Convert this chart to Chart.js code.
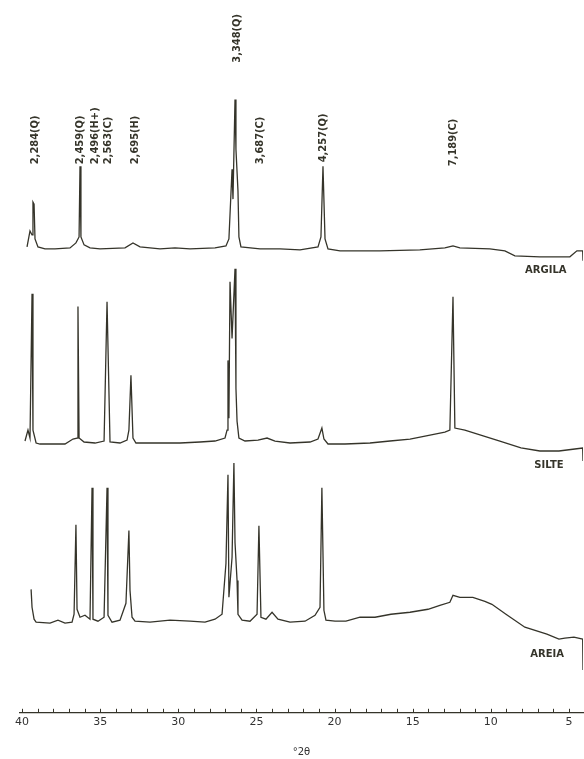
<!DOCTYPE html>
<html>
<head>
<meta charset="utf-8">
<script src="https://cdn.jsdelivr.net/npm/chart.js@4"></script>
<style>
  html, body { margin: 0; padding: 0; background: #fff; }
  #wrap { width: 584px; height: 759px; }
</style>
</head>
<body>
<div id="wrap"><canvas id="xrd"></canvas></div>
<script>
// diffractogram traces, 2θ (degrees) and intensity (arbitrary units)
const argilaTheta = [39.68, 39.49, 39.36, 39.30, 39.23, 39.17, 38.98, 38.53, 37.89, 36.93, 36.55, 36.35, 36.29, 36.23, 36.03, 35.65, 35.01, 33.41, 32.90, 32.45, 31.17, 30.21, 29.25, 27.65, 26.95, 26.76, 26.56, 26.50, 26.37, 26.31, 26.18, 26.12, 25.99, 24.77, 23.49, 22.21, 21.06, 20.87, 20.74, 20.61, 20.42, 19.65, 17.10, 14.54, 12.94, 12.42, 11.98, 10.06, 9.10, 8.46, 6.86, 4.94, 4.49, 4.12, 4.10];
const argilaCounts = [17, 33, 29, 62, 60, 25, 17, 15, 15, 16, 21, 27, 98, 27, 19, 16, 15, 16, 21, 17, 15, 16, 15, 16, 18, 25, 95, 65, 165, 115, 73, 27, 17, 15, 15, 14, 17, 27, 98, 25, 15, 13, 13, 14, 16, 18, 16, 15, 13, 8, 7, 7, 13, 13, 3];

const silteTheta = [39.81, 39.62, 39.49, 39.36, 39.30, 39.10, 38.85, 38.21, 37.25, 36.74, 36.48, 36.42, 36.35, 36.03, 35.33, 34.75, 34.56, 34.37, 33.73, 33.28, 33.16, 33.03, 32.90, 32.71, 31.81, 29.89, 28.61, 27.65, 27.01, 26.88, 26.82, 26.76, 26.69, 26.56, 26.37, 26.31, 26.24, 26.12, 25.73, 24.90, 24.32, 23.81, 22.85, 21.57, 21.06, 20.81, 20.68, 20.42, 19.33, 17.73, 16.45, 15.17, 14.21, 12.94, 12.62, 12.42, 12.30, 11.66, 10.44, 9.42, 8.07, 6.86, 5.64, 4.62, 4.12, 4.10];
const silteCounts = [22, 33, 25, 170, 33, 20, 19, 19, 19, 24, 25, 157, 25, 21, 20, 22, 162, 21, 20, 23, 33, 88, 25, 20, 20, 20, 21, 22, 25, 33, 103, 45, 182, 125, 195, 75, 42, 25, 22, 23, 25, 22, 20, 21, 24, 35, 24, 19, 19, 20, 22, 24, 27, 31, 33, 167, 35, 33, 27, 22, 15, 12, 12, 14, 15, 2];

const areiaTheta = [39.42, 39.36, 39.23, 39.10, 38.21, 37.70, 37.25, 36.80, 36.67, 36.55, 36.48, 36.29, 35.97, 35.65, 35.52, 35.46, 35.14, 34.75, 34.56, 34.50, 34.24, 33.73, 33.35, 33.16, 33.09, 32.96, 32.77, 31.81, 30.53, 29.25, 28.29, 27.65, 27.20, 26.95, 26.82, 26.76, 26.56, 26.44, 26.37, 26.24, 26.18, 25.92, 25.41, 24.96, 24.84, 24.71, 24.39, 24.00, 23.62, 22.85, 21.89, 21.25, 20.93, 20.81, 20.68, 20.55, 19.97, 19.27, 18.37, 17.41, 16.39, 15.17, 14.02, 13.26, 12.62, 12.42, 11.98, 11.15, 10.38, 9.93, 9.03, 7.82, 6.41, 5.64, 5.26, 4.68, 4.12, 4.10];
const areiaCounts = [81, 63, 51, 48, 47, 50, 47, 48, 56, 146, 61, 53, 55, 51, 183, 51, 49, 53, 183, 55, 48, 50, 67, 140, 80, 53, 49, 48, 50, 49, 48, 51, 56, 107, 196, 73, 113, 208, 128, 90, 56, 50, 49, 56, 145, 53, 51, 58, 51, 48, 49, 55, 63, 183, 60, 50, 49, 49, 53, 53, 56, 58, 61, 65, 68, 75, 73, 73, 69, 66, 56, 43, 36, 31, 32, 33, 31, 0];

const sampleNames = ['ARGILA', 'SILTE', 'AREIA'];

// d-spacing labels and the 2θ they sit at
const peakLabels = ['2,284(Q)', '2,459(Q)', '2,496(H+)', '2,563(C)', '2,695(H)', '3,348(Q)', '3,687(C)', '4,257(Q)', '7,189(C)'];
const peakTheta = [39.17, 36.29, 35.33, 34.50, 32.77, 26.24, 24.77, 20.74, 12.42];

const xTicks = [40, 35, 30, 25, 20, 15, 10, 5];

// vertical stacking of the three traces
const offsets = [451, 251, 43];
const labelLevels = [551, 551, 551, 551, 551, 653, 551, 553, 549];
const nameTheta = [6.48, 6.28, 6.40];
const nameLevels = [444, 249, 59];

const ink = '#35342a';

function toPoints(xs, ys, off) {
  return xs.map((x, i) => ({ x: x, y: ys[i] + off }));
}

const annotations = {
  id: 'annotations',
  afterDraw(chart) {
    const ctx = chart.ctx;
    const xs = chart.scales.x;
    const ys = chart.scales.y;
    const area = chart.chartArea;

    // small ticks pointing up from the axis, one per degree
    ctx.save();
    ctx.strokeStyle = ink;
    ctx.lineWidth = 1;
    for (let t = 5; t <= 40; t++) {
      const px = Math.round(xs.getPixelForValue(t)) + 0.5;
      ctx.beginPath();
      ctx.moveTo(px, area.bottom);
      ctx.lineTo(px, area.bottom - 4);
      ctx.stroke();
    }

    // rotated peak labels
    ctx.fillStyle = ink;
    ctx.font = 'bold 11px "DejaVu Sans Condensed", "DejaVu Sans", sans-serif';
    ctx.textAlign = 'left';
    ctx.textBaseline = 'middle';
    peakLabels.forEach((txt, i) => {
      ctx.save();
      ctx.translate(xs.getPixelForValue(peakTheta[i]), ys.getPixelForValue(labelLevels[i]));
      ctx.rotate(-Math.PI / 2);
      ctx.fillText(txt, 0, 0);
      ctx.restore();
    });

    // sample names
    ctx.font = 'bold 10px "DejaVu Sans", sans-serif';
    ctx.textAlign = 'center';
    sampleNames.forEach((name, i) => {
      ctx.fillText(name, xs.getPixelForValue(nameTheta[i]), ys.getPixelForValue(nameLevels[i]));
    });
    ctx.restore();
  }
};

const traces = [
  [argilaTheta, argilaCounts],
  [silteTheta, silteCounts],
  [areiaTheta, areiaCounts]
];

new Chart(document.getElementById('xrd'), {
  type: 'line',
  data: {
    datasets: traces.map((tr, i) => ({
      label: sampleNames[i],
      data: toPoints(tr[0], tr[1], offsets[i]),
      borderColor: ink,
      borderWidth: 1.3,
      pointRadius: 0,
      tension: 0,
      fill: false
    }))
  },
  options: {
    responsive: true,
    maintainAspectRatio: false,
    animation: false,
    layout: { padding: { left: 20, right: 1, top: 0, bottom: 0 } },
    plugins: {
      legend: { display: false },
      tooltip: { enabled: false }
    },
    scales: {
      x: {
        type: 'linear',
        reverse: true,
        min: 4.1,
        max: 40.13,
        afterBuildTicks: (scale) => {
          scale.ticks = xTicks.map((v) => ({ value: v }));
        },
        grid: { display: false, drawTicks: false },
        border: { display: true, color: ink, width: 1.2 },
        ticks: {
          padding: 3,
          color: '#333',
          font: { family: 'DejaVu Sans', size: 11 },
          maxRotation: 0
        },
        title: {
          display: true,
          text: '°2θ',
          color: '#333',
          font: { family: 'DejaVu Sans', size: 10 },
          padding: { top: 14, bottom: 1 }
        }
      },
      y: {
        display: false,
        min: 0,
        max: 716
      }
    }
  },
  plugins: [annotations]
});
</script>
</body>
</html>
